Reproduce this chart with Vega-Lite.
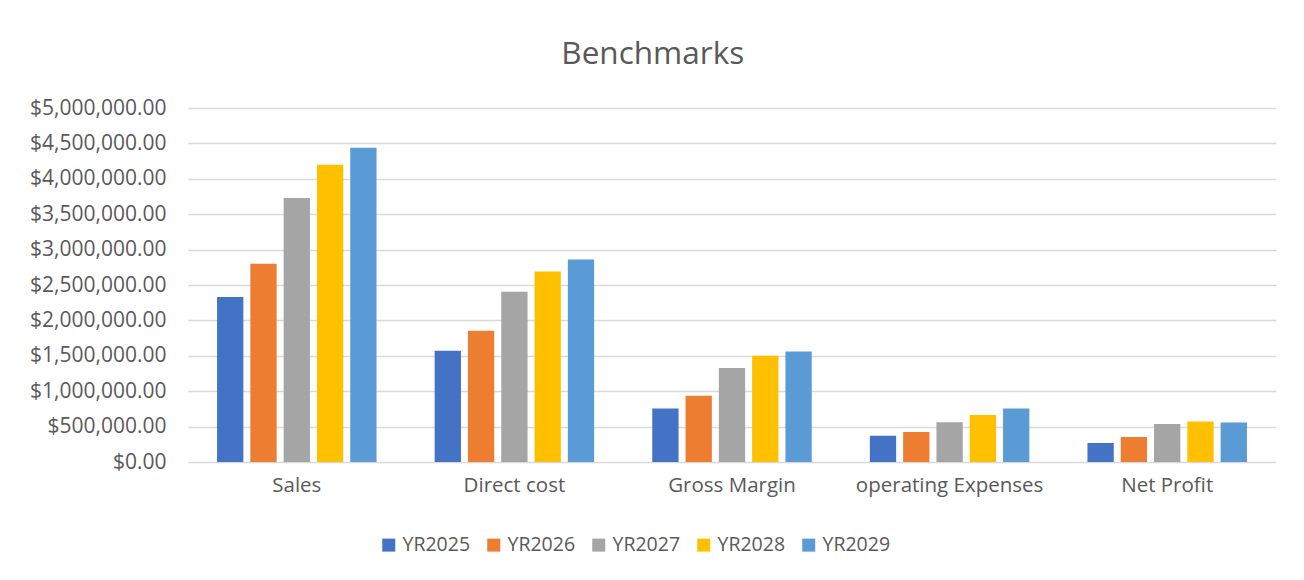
{
  "$schema": "https://vega.github.io/schema/vega-lite/v6.json",
  "width": 1088,
  "height": 354,
  "autosize": {"type": "none"},
  "padding": {"left": 188, "top": 108, "right": 28, "bottom": 118},
  "background": "#ffffff",
  "title": {
    "text": "Benchmarks",
    "font": "Open Sans",
    "fontSize": 31.5,
    "fontWeight": "normal",
    "color": "#595959",
    "anchor": "middle",
    "frame": "bounds",
    "offset": 27
  },
  "data": {
    "values": [
      {"metric": "Sales", "year": "YR2025", "value": 2330000},
      {"metric": "Sales", "year": "YR2026", "value": 2800000},
      {"metric": "Sales", "year": "YR2027", "value": 3730000},
      {"metric": "Sales", "year": "YR2028", "value": 4200000},
      {"metric": "Sales", "year": "YR2029", "value": 4440000},
      {"metric": "Direct cost", "year": "YR2025", "value": 1570000},
      {"metric": "Direct cost", "year": "YR2026", "value": 1855000},
      {"metric": "Direct cost", "year": "YR2027", "value": 2405000},
      {"metric": "Direct cost", "year": "YR2028", "value": 2690000},
      {"metric": "Direct cost", "year": "YR2029", "value": 2860000},
      {"metric": "Gross Margin", "year": "YR2025", "value": 757000},
      {"metric": "Gross Margin", "year": "YR2026", "value": 936000},
      {"metric": "Gross Margin", "year": "YR2027", "value": 1328000},
      {"metric": "Gross Margin", "year": "YR2028", "value": 1500000},
      {"metric": "Gross Margin", "year": "YR2029", "value": 1560000},
      {"metric": "operating Expenses", "year": "YR2025", "value": 371000},
      {"metric": "operating Expenses", "year": "YR2026", "value": 424000},
      {"metric": "operating Expenses", "year": "YR2027", "value": 560000},
      {"metric": "operating Expenses", "year": "YR2028", "value": 664000},
      {"metric": "operating Expenses", "year": "YR2029", "value": 757000},
      {"metric": "Net Profit", "year": "YR2025", "value": 268000},
      {"metric": "Net Profit", "year": "YR2026", "value": 353000},
      {"metric": "Net Profit", "year": "YR2027", "value": 537000},
      {"metric": "Net Profit", "year": "YR2028", "value": 573000},
      {"metric": "Net Profit", "year": "YR2029", "value": 559000}
    ]
  },
  "mark": {"type": "bar"},
  "encoding": {
    "x": {
      "field": "metric",
      "type": "nominal",
      "sort": ["Sales", "Direct cost", "Gross Margin", "operating Expenses", "Net Profit"],
      "scale": {"paddingInner": 0.267, "paddingOuter": 0.1335},
      "axis": {
        "title": null,
        "labelAngle": 0,
        "labelFont": "Open Sans",
        "labelFontSize": 20.5,
        "labelColor": "#595959",
        "labelPadding": 13,
        "labelLimit": 400,
        "labelOverlap": false,
        "ticks": false,
        "domain": false,
        "grid": false
      }
    },
    "xOffset": {
      "field": "year",
      "type": "nominal",
      "scale": {"paddingInner": 0.21, "paddingOuter": 0}
    },
    "y": {
      "field": "value",
      "type": "quantitative",
      "scale": {"domain": [0, 5000000], "nice": false},
      "axis": {
        "title": null,
        "values": [0, 500000, 1000000, 1500000, 2000000, 2500000, 3000000, 3500000, 4000000, 4500000, 5000000],
        "format": "$,.2f",
        "labelFont": "Open Sans",
        "labelFontSize": 21,
        "labelColor": "#595959",
        "labelPadding": 22,
        "ticks": false,
        "domain": false,
        "grid": true,
        "gridColor": "#d9d9d9",
        "gridWidth": 1.5
      }
    },
    "color": {
      "field": "year",
      "type": "nominal",
      "scale": {
        "domain": ["YR2025", "YR2026", "YR2027", "YR2028", "YR2029"],
        "range": ["#4472C4", "#ED7D31", "#A5A5A5", "#FFC000", "#5B9BD5"]
      },
      "legend": {
        "title": null,
        "orient": "none",
        "legendX": 191,
        "legendY": 427,
        "direction": "horizontal",
        "symbolType": "square",
        "symbolSize": 169,
        "symbolStrokeWidth": 0,
        "labelFont": "Open Sans",
        "labelFontSize": 19.5,
        "labelColor": "#595959",
        "labelOffset": 4,
        "columnPadding": 13
      }
    }
  },
  "config": {
    "view": {"stroke": null}
  }
}
